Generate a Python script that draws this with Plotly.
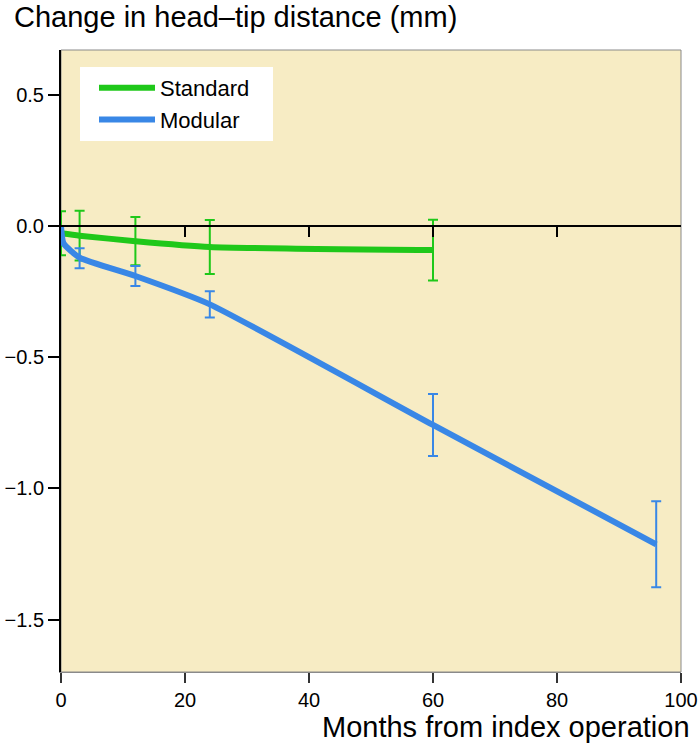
import plotly.graph_objects as go

# ---- data ----
std_months = [0, 3, 12, 24, 60]
std_values = [-0.027, -0.036, -0.057, -0.079, -0.091]
std_err = [0.084, 0.095, 0.092, 0.103, 0.116]

mod_months = [0, 0.4, 3, 12, 24, 60, 96]
mod_values = [0.0, -0.065, -0.12, -0.19, -0.298, -0.758, -1.213]
mod_err_months = [3, 12, 24, 60, 96]
mod_err_values = [-0.122, -0.19, -0.298, -0.758, -1.213]
mod_err = [0.038, 0.038, 0.05, 0.118, 0.164]

x_ticks = [0, 20, 40, 60, 80, 100]
y_ticks = [0.5, 0.0, -0.5, -1.0, -1.5]
y_tick_text = ["0.5", "0.0", "\u22120.5", "\u22121.0", "\u22121.5"]
zero_ticks = [20, 40, 60, 80]

GREEN = "#1fc81a"
BLUE = "#3987e6"
FONT = "Liberation Sans, Arial, sans-serif"

Y_MIN, Y_MAX = -1.70, 0.672
PLOT_L, PLOT_R, PLOT_T, PLOT_B = 61, 681, 50, 672
NBSP = "\u00a0"

fig = go.Figure()

# Standard
fig.add_trace(go.Scatter(
    x=std_months, y=std_values, mode="lines", name="Standard" + NBSP * 3,
    line=dict(color=GREEN, width=6, shape="spline", smoothing=0.6),
    error_y=dict(type="data", array=std_err, visible=True, color=GREEN,
                 thickness=2, width=5),
))

# Modular line
fig.add_trace(go.Scatter(
    x=mod_months, y=mod_values, mode="lines", name="Modular",
    line=dict(color=BLUE, width=6, shape="spline", smoothing=0.5),
))
# Modular error bars
fig.add_trace(go.Scatter(
    x=mod_err_months, y=mod_err_values, mode="markers", showlegend=False,
    marker=dict(size=1, color="rgba(0,0,0,0)"), hoverinfo="skip",
    error_y=dict(type="data", array=mod_err, visible=True, color=BLUE,
                 thickness=2, width=5),
))

# invisible trace to activate the zero-line axis
fig.add_trace(go.Scatter(x=[None], y=[None], xaxis="x2", showlegend=False,
                         hoverinfo="skip"))

W, H = 699, 745
fig.update_layout(
    width=W, height=H,
    margin=dict(l=PLOT_L, r=W - PLOT_R, t=PLOT_T, b=H - PLOT_B),
    paper_bgcolor="white",
    plot_bgcolor="#f7ecc4",
    font=dict(family=FONT, color="black", size=20),
    title=dict(text="Change in head\u2013tip distance (mm)", x=14/W,
               xanchor="left", y=1-17/H, yanchor="middle",
               font=dict(size=29, family=FONT, color="black")),
    xaxis=dict(range=[0, 100], tickvals=x_ticks, showgrid=False, zeroline=False,
               showline=True, linecolor="#8a8a8a", linewidth=1,
               ticks="outside", ticklen=10, tickcolor="#333", tickwidth=1.5,
               tickfont=dict(size=20), automargin=False,
               ticklabeloverflow="allow"),
    xaxis2=dict(range=[0, 100], overlaying="x", anchor="free",
                position=(0 - Y_MIN) / (Y_MAX - Y_MIN),
                tickvals=zero_ticks, showticklabels=False, showgrid=False,
                zeroline=False, showline=True, linecolor="black", linewidth=2,
                ticks="outside", ticklen=10, tickcolor="black", tickwidth=2,
                side="bottom"),
    yaxis=dict(range=[Y_MIN, Y_MAX], tickvals=y_ticks, ticktext=y_tick_text,
               showgrid=False, zeroline=False, showline=True, linecolor="black",
               linewidth=2, ticks="outside", ticklen=11, tickcolor="black",
               tickwidth=1.5, tickfont=dict(size=20), automargin=False,
               ticklabeloverflow="allow"),
    legend=dict(x=(80-PLOT_L)/(PLOT_R-PLOT_L), y=1-(67-PLOT_T)/(PLOT_B-PLOT_T),
                xanchor="left", yanchor="top",
                bgcolor="white", borderwidth=0, font=dict(size=22),
                itemwidth=56, tracegroupgap=0, indentation=14),
    shapes=[dict(type="rect", xref="paper", yref="paper", x0=0, x1=1, y0=0, y1=1,
                 line=dict(color="#8a8a8a", width=1), layer="below")],
    annotations=[dict(text="Months from index operation",
                      xref="x domain", yref="y domain",
                      x=(692-PLOT_L)/(PLOT_R-PLOT_L), y=-(727-PLOT_B)/(PLOT_B-PLOT_T),
                      xanchor="right", yanchor="middle", showarrow=False,
                      font=dict(size=29, family=FONT, color="black"))],
    showlegend=True,
)

fig.write_html("out.html", config={"displayModeBar": False},
               post_script="document.body.style.margin='0px';")
